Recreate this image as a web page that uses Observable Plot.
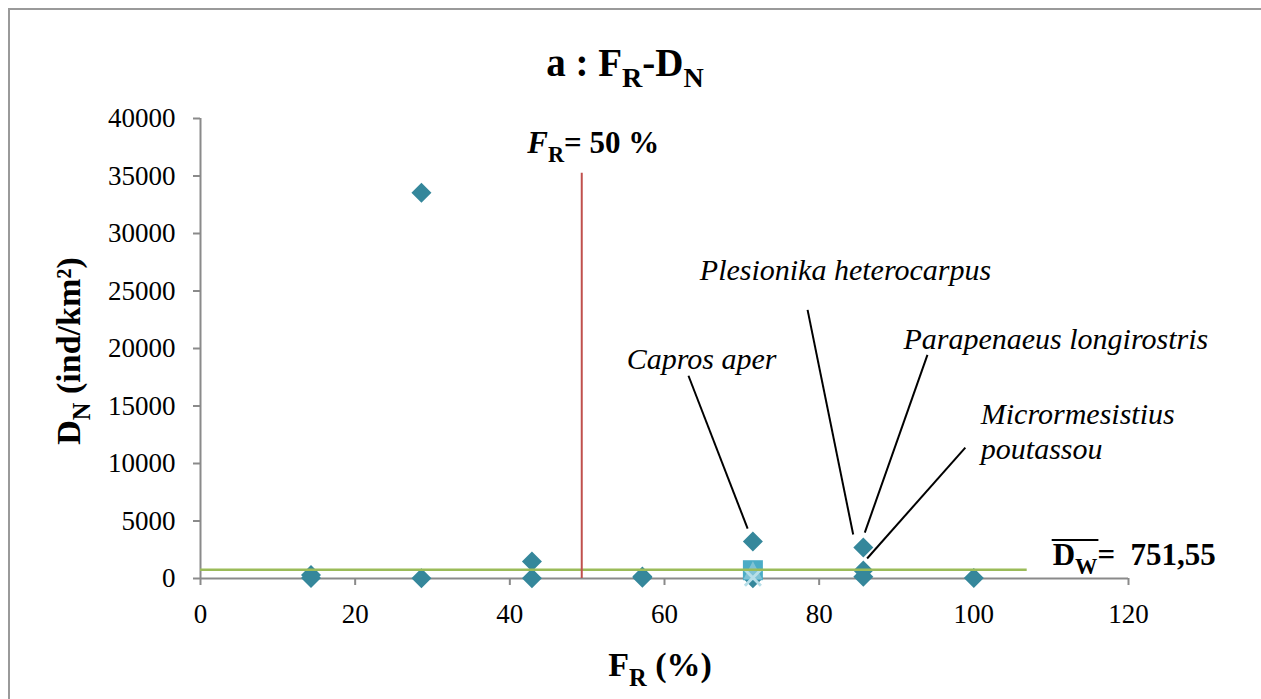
<!DOCTYPE html>
<html><head><meta charset="utf-8">
<script src="https://cdn.jsdelivr.net/npm/d3@7"></script>
<script src="https://cdn.jsdelivr.net/npm/@observablehq/plot@0.6"></script>
<style>
body{margin:0;background:#fff}
#wrap{position:relative;width:1261px;height:699px;overflow:hidden;background:#fff}
#frame{position:absolute;left:8px;top:8px;width:1400px;height:900px;border-left:2px solid #9a9a9a;border-top:2px solid #9a9a9a}
#chart{position:absolute;left:0;top:0}
#chart svg, #chart svg text, #chart svg tspan{font-family:"Liberation Serif","Times New Roman",Times,serif !important}
</style>
</head><body>
<div id="wrap"><div id="frame"></div><div id="chart"></div></div>
<script>
// ---- data ----
const mainFR = [14.29, 14.29, 28.57, 28.57, 42.86, 42.86, 57.14, 57.14, 71.43, 71.43, 85.71, 85.71, 85.71, 100];
const mainDN = [300, 50, 33550, 30, 1480, 20, 180, 60, 3210, 20, 2700, 700, 150, 50];
const squareFR = [71.43];
const squareDN = [720];
const triangleFR = [71.43];
const triangleDN = [620];
const crossFR = [71.43];
const crossDN = [60];
const meanDW = 751.55;
const meanLineEnd = 106.9;
const frThreshold = 49.3;
const frThresholdTop = 35240;
const xTicks = [0, 20, 40, 60, 80, 100, 120];
const yTicks = [0, 5000, 10000, 15000, 20000, 25000, 30000, 35000, 40000];
const speciesNames = ["Capros aper", "Plesionika heterocarpus", "Parapenaeus longirostris", "Micrormesistius", "poutassou"];
const speciesX = [64.8, 83.4, 110.6, 100.9, 100.9];
const speciesY = [18240, 25960, 19970, 13460, 10420];
const speciesAnchor = ["middle", "middle", "middle", "start", "start"];
const leaderX1 = [63.1, 78.5, 94.0, 98.9];
const leaderY1 = [17630, 23360, 19450, 11380];
const leaderX2 = [70.75, 84.4, 85.9, 86.2];
const leaderY2 = [4340, 3820, 3990, 1740];

// ---- tables ----
const mainPts = mainFR.map((x, i) => ({x, y: mainDN[i]}));
const sqPts = squareFR.map((x, i) => ({x, y: squareDN[i]}));
const triPts = triangleFR.map((x, i) => ({x, y: triangleDN[i]}));
const crPts = crossFR.map((x, i) => ({x, y: crossDN[i]}));
const labels = speciesNames.map((t, i) => ({t, x: speciesX[i], y: speciesY[i], a: speciesAnchor[i]}));
const leaders = leaderX1.map((x1, i) => ({x1, y1: leaderY1[i], x2: leaderX2[i], y2: leaderY2[i]}));

const serif = '"Liberation Serif", "Times New Roman", Times, serif';
const diamondSym = {draw(c, s){const r = Math.sqrt(s/Math.PI); c.moveTo(0,-r); c.lineTo(r,0); c.lineTo(0,r); c.lineTo(-r,0); c.closePath();}};
const squareSym = {draw(c, s){const r = Math.sqrt(s/Math.PI); c.moveTo(-r,-r); c.lineTo(r,-r); c.lineTo(r,r); c.lineTo(-r,r); c.closePath();}};
const triSym = {draw(c, s){const r = Math.sqrt(s/Math.PI); c.moveTo(0,-r); c.lineTo(r*0.95,r*0.8); c.lineTo(-r*0.95,r*0.8); c.closePath();}};
const crossSym = {draw(c, s){const r = Math.sqrt(s/Math.PI); c.moveTo(-r,-r); c.lineTo(r,r); c.moveTo(r,-r); c.lineTo(-r,r);}};

const plot = Plot.plot({
  width: 1261, height: 699,
  marginLeft: 200, marginRight: 133, marginTop: 118, marginBottom: 121,
  style: {fontFamily: serif, background: "transparent", color: "#000"},
  x: {domain: [0, 120]},
  y: {domain: [0, 40000]},
  marks: [
    Plot.axisY({ticks: yTicks, tickSize: 7, tickPadding: 18, fontSize: 27, fontFamily: serif, stroke: "#8a8a8a", strokeWidth: 2, fill: "#000", label: null, tickFormat: d => String(d)}),
    Plot.axisX({ticks: xTicks, tickSize: 7, tickPadding: 18, fontSize: 27, fontFamily: serif, stroke: "#8a8a8a", strokeWidth: 2, fill: "#000", label: null, tickFormat: d => String(d)}),
    Plot.ruleX([0], {y1: 0, y2: 40000, stroke: "#8a8a8a", strokeWidth: 2}),
    Plot.ruleY([0], {x1: 0, x2: 120, stroke: "#8a8a8a", strokeWidth: 2}),
    Plot.dot(mainPts, {x: "x", y: "y", r: 10, symbol: diamondSym, fill: "#35879B", stroke: "none"}),
    Plot.dot(sqPts, {x: "x", y: "y", r: 10, symbol: squareSym, fill: "#4BACC6", stroke: "none"}),
    Plot.dot(triPts, {x: "x", y: "y", r: 10, symbol: triSym, fill: "#8CC8D8", fillOpacity: 0.8, stroke: "none"}),
    Plot.dot(crPts, {x: "x", y: "y", r: 8, symbol: crossSym, fill: "none", stroke: "#B7DEE8", strokeWidth: 3}),
    Plot.ruleY([meanDW], {x1: 0, x2: meanLineEnd, stroke: "#9BBB59", strokeWidth: 2.5}),
    Plot.ruleX([frThreshold], {y1: 0, y2: frThresholdTop, stroke: "#C0504D", strokeWidth: 2}),
    Plot.link(leaders, {x1: "x1", y1: "y1", x2: "x2", y2: "y2", stroke: "#000", strokeWidth: 2}),
    Plot.text(labels.filter(d => d.a === "middle"), {x: "x", y: "y", text: "t", textAnchor: "middle", lineAnchor: "bottom", fontSize: 30, fontFamily: serif, fontStyle: "italic", fill: "#000"}),
    Plot.text(labels.filter(d => d.a === "start"), {x: "x", y: "y", text: "t", textAnchor: "start", lineAnchor: "bottom", fontSize: 30, fontFamily: serif, fontStyle: "italic", fill: "#000"})
  ]
});
document.getElementById("chart").appendChild(plot);

// ---- rich text (subscripts) ----
const svg = d3.select(plot);
function rich(x, y, parts, size, anchor = "start", rotate = 0) {
  const t = svg.append("text").attr("x", x).attr("y", y)
    .attr("font-family", serif).attr("font-size", size).attr("font-weight", "bold")
    .attr("text-anchor", anchor).attr("fill", "#000");
  if (rotate) t.attr("transform", `rotate(${rotate},${x},${y})`);
  let shift = 0;
  for (const p of parts) {
    const ts = t.append("tspan").text(p.t);
    const target = p.sub ? size * 0.28 : 0;
    ts.attr("dy", target - shift); shift = target;
    if (p.sub) ts.attr("font-size", size * 0.72);
    if (p.i) ts.attr("font-style", "italic");
  }
  return t;
}
const sx = plot.scale("x"), sy = plot.scale("y");
// title
rich(625, 76, [{t: "a : F"}, {t: "R", sub: 1}, {t: "-D"}, {t: "N", sub: 1}], 39, "middle");
// x label
rich(660, 676, [{t: "F"}, {t: "R", sub: 1}, {t: " (%)"}], 34, "middle");
// y label
rich(80, 351, [{t: "D"}, {t: "N", sub: 1}, {t: " (ind/km²)"}], 34, "middle", -90);
// threshold label
rich(sx.apply(frThreshold) - 54, 153, [{t: "F", i: 1}, {t: "R", sub: 1}, {t: "= 50 %"}], 31, "start");
// mean label
const dwX = sx.apply(meanLineEnd) + 26, dwY = 565;
const dw = rich(dwX, dwY, [{t: "D"}, {t: "W", sub: 1}, {t: "=  751,55"}], 31, "start");
const dwEnd = dwX + dw.node().getSubStringLength(0, 2);
svg.append("line").attr("x1", dwX - 1).attr("x2", dwEnd + 1).attr("y1", dwY - 25).attr("y2", dwY - 25)
  .attr("stroke", "#000").attr("stroke-width", 2);
</script>
</body></html>
